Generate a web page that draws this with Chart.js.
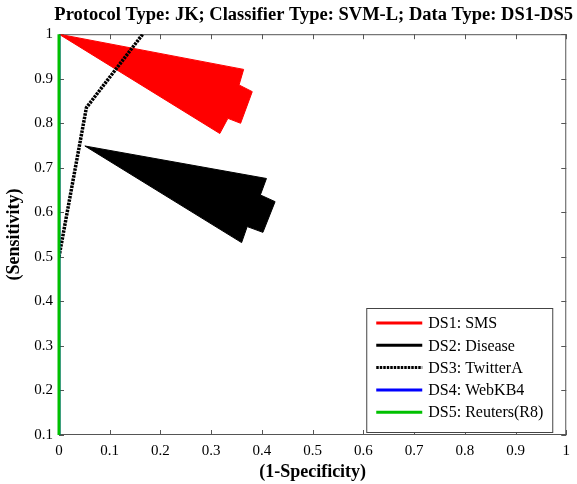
<!DOCTYPE html>
<html>
<head>
<meta charset="utf-8">
<script src="https://cdn.jsdelivr.net/npm/chart.js@4"></script>
<style>
    html, body { margin: 0; padding: 0; background: #fff; }
    #wrap { width: 577px; height: 484px; }
</style>
</head>
<body>
<div id="wrap"><canvas id="rocChart" width="577" height="484"></canvas></div>
<script>
// ROC curves, values
const seriesLabels = ['DS1: SMS', 'DS2: Disease', 'DS3: TwitterA', 'DS4: WebKB4', 'DS5: Reuters(R8)'];
const seriesColors = ['#ff0000', '#000000', '#000000', '#0000ff', '#00c000'];

const ds1X = [0, 0.364, 0.355, 0.381, 0.358, 0.333, 0.317, 0];
const ds1Y = [1, 0.921, 0.886, 0.871, 0.800, 0.811, 0.777, 1];
const ds2X = [0.051, 0.409, 0.397, 0.426, 0.402, 0.371, 0.360, 0.051];
const ds2Y = [0.749, 0.676, 0.639, 0.624, 0.555, 0.568, 0.532, 0.749];
const ds3X = [0, 0.054, 0.165];
const ds3Y = [0.5, 0.835, 1.0];
const ds4X = [0, 0];
const ds4Y = [0.1, 1];
const ds5X = [0, 0];
const ds5Y = [0.1, 1];

const xTicks = [0, 0.1, 0.2, 0.3, 0.4, 0.5, 0.6, 0.7, 0.8, 0.9, 1];
const yTicks = [0.1, 0.2, 0.3, 0.4, 0.5, 0.6, 0.7, 0.8, 0.9, 1];

const serif = "'Liberation Serif', 'Times New Roman', serif";

function toPoints(xs, ys) {
    return xs.map((x, i) => ({x: x, y: ys[i]}));
}

// plot frame with inward ticks on all four sides (matlab look)
const frame = {
    id: 'frame',
    beforeDatasetsDraw(chart) {
        const {ctx, chartArea: a, scales} = chart;
        ctx.save();
        ctx.strokeStyle = '#555';
        ctx.lineWidth = 1;
        ctx.strokeRect(a.left + 0.5, a.top + 0.5, a.right - a.left - 1, a.bottom - a.top - 1);
        ctx.beginPath();
        xTicks.forEach(v => {
            const px = Math.round(scales.x.getPixelForValue(v)) + 0.5;
            ctx.moveTo(px, a.bottom); ctx.lineTo(px, a.bottom - 5);
            ctx.moveTo(px, a.top); ctx.lineTo(px, a.top + 5);
        });
        yTicks.forEach(v => {
            const py = Math.round(scales.y.getPixelForValue(v)) + 0.5;
            ctx.moveTo(a.left, py); ctx.lineTo(a.left + 5, py);
            ctx.moveTo(a.right, py); ctx.lineTo(a.right - 5, py);
        });
        ctx.stroke();
        ctx.restore();
    }
};

// legend box in the lower right corner of the plot
const boxLegend = {
    id: 'boxLegend',
    afterDraw(chart) {
        const {ctx, chartArea: a} = chart;
        const w = 186, h = 124;
        const left = a.right - 14 - w, top = a.bottom - 3 - h;
        ctx.save();
        ctx.fillStyle = '#fff';
        ctx.fillRect(left, top, w, h);
        ctx.strokeStyle = '#444';
        ctx.lineWidth = 1;
        ctx.strokeRect(left + 0.5, top + 0.5, w, h);
        ctx.font = '16px ' + serif;
        ctx.textBaseline = 'middle';
        chart.data.datasets.forEach((ds, i) => {
            const y = top + 15 + i * 22.3;
            ctx.beginPath();
            ctx.strokeStyle = ds.borderColor;
            ctx.lineWidth = 3;
            ctx.setLineDash(i === 2 ? [2.5, 1] : []);
            ctx.moveTo(left + 10, y);
            ctx.lineTo(left + 56, y);
            ctx.stroke();
            ctx.setLineDash([]);
            ctx.fillStyle = '#000';
            ctx.fillText(ds.label, left + 62, y + 1);
        });
        ctx.restore();
    }
};

const datasets = [
    {points: toPoints(ds1X, ds1Y), fill: 'shape', width: 1, order: 5},
    {points: toPoints(ds2X, ds2Y), fill: 'shape', width: 1, order: 4},
    {points: toPoints(ds3X, ds3Y), fill: false, width: 3.5, dash: [2.5, 1], order: 3},
    {points: toPoints(ds4X, ds4Y), fill: false, width: 3, order: 2},
    {points: toPoints(ds5X, ds5Y), fill: false, width: 3, order: 1, clip: false}
].map((d, i) => ({
    label: seriesLabels[i],
    data: d.points,
    showLine: true,
    fill: d.fill,
    borderColor: seriesColors[i],
    backgroundColor: seriesColors[i],
    borderWidth: d.width,
    borderDash: d.dash || [],
    pointRadius: 0,
    tension: 0,
    order: d.order,
    clip: d.clip === false ? false : undefined
}));

const config = {
    type: 'scatter',
    data: {datasets: datasets},
    plugins: [frame, boxLegend],
    options: {
        responsive: false,
        animation: false,
        layout: {padding: {left: 0, right: 4, top: 0, bottom: 0}},
        plugins: {
            legend: {display: false},
            tooltip: {enabled: false},
            title: {
                display: true,
                align: 'end',
                text: 'Protocol Type: JK; Classifier Type: SVM-L; Data Type: DS1-DS5',
                color: '#000',
                font: {family: serif, size: 18.5, weight: 'bold', lineHeight: 1.2},
                padding: {top: 4, bottom: 8}
            }
        },
        scales: {
            x: {
                type: 'linear',
                min: 0,
                max: 1,
                afterFit(scale) { scale.height = 49; },
                afterBuildTicks(scale) { scale.ticks = xTicks.map(v => ({value: v})); },
                grid: {display: false, drawTicks: false},
                border: {display: false},
                ticks: {
                    color: '#000',
                    padding: 7,
                    maxRotation: 0,
                    autoSkip: false,
                    font: {family: serif, size: 15},
                    callback: v => String(Number(v.toFixed(1)))
                },
                title: {
                    display: true,
                    text: '(1-Specificity)',
                    color: '#000',
                    font: {family: serif, size: 18, weight: 'bold', lineHeight: 1.2},
                    padding: {top: 0, bottom: 1}
                }
            },
            y: {
                type: 'linear',
                min: 0.1,
                max: 1,
                afterFit(scale) { scale.width = 59; },
                afterBuildTicks(scale) { scale.ticks = yTicks.map(v => ({value: v})); },
                grid: {display: false, drawTicks: false},
                border: {display: false},
                ticks: {
                    color: '#000',
                    padding: 6,
                    autoSkip: false,
                    font: {family: serif, size: 15},
                    callback: v => String(Number(v.toFixed(1)))
                },
                title: {
                    display: true,
                    text: '(Sensitivity)',
                    color: '#000',
                    font: {family: serif, size: 18, weight: 'bold', lineHeight: 1.2},
                    padding: {top: 4, bottom: 0}
                }
            }
        }
    }
};

new Chart(document.getElementById('rocChart'), config);
</script>
</body>
</html>
